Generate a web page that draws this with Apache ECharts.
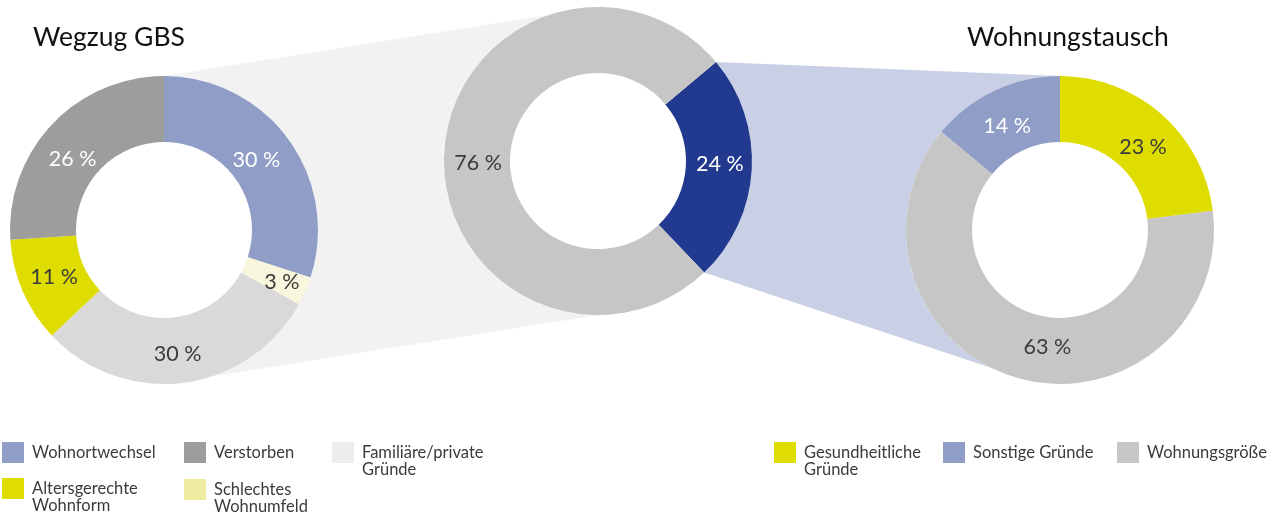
<!DOCTYPE html>
<html>
<head>
<meta charset="utf-8">
<script src="https://cdn.jsdelivr.net/npm/echarts@6/dist/echarts.min.js"></script>
<style>
html, body { margin: 0; padding: 0; background: #fff; }
#chart { width: 1285px; height: 515px; }
</style>
</head>
<body>
<div id="chart"></div>
<script>
// Wegzug GBS (left donut), clockwise from 12 o'clock
const wegzugNames = ['Wohnortwechsel', 'Schlechtes Wohnumfeld', 'Familiäre/private Gründe', 'Altersgerechte Wohnform', 'Verstorben']
const wegzugValues = [30, 3, 30, 11, 26]
// share of all cases (middle donut)
const totalNames = ['Wohnungstausch', 'Wegzug GBS']
const totalValues = [24, 76]
// Wohnungstausch (right donut), clockwise from 12 o'clock
const tauschNames = ['Gesundheitliche Gründe', 'Wohnungsgröße', 'Sonstige Gründe']
const tauschValues = [23, 63, 14]

// legend order as shown under the charts
const legendLeft = ['Wohnortwechsel', 'Verstorben', 'Familiäre/private Gründe', 'Altersgerechte Wohnform', 'Schlechtes Wohnumfeld']
const legendRight = ['Gesundheitliche Gründe', 'Sonstige Gründe', 'Wohnungsgröße']

// styles
const dark = '#3b3b3b'
const wegzugColors = ['#8f9dc7', '#f8f6dc', '#d9d9d9', '#dfdc00', '#9d9d9b']
const wegzugLabel = ['#fff', dark, dark, dark, '#fff']
const wegzugShift = [[-8, 3], [4, 3], [-2, 1], [4, -2], [-1, 14]]
const totalColors = ['#213a8f', '#c6c6c6']
const totalLabel = ['#fff', dark]
const totalShift = [[-2, -4], [4, 9]]
const tauschColors = ['#dfdc00', '#c6c6c6', '#8f9dc7']
const tauschLabel = [dark, dark, '#fff']
const tauschShift = [[1, 10], [22, -2], [0, 8]]
const legendColors = {
  'Wohnortwechsel': '#8f9dc7',
  'Verstorben': '#9d9d9b',
  'Familiäre/private Gründe': '#ededed',
  'Altersgerechte Wohnform': '#dfdc00',
  'Schlechtes Wohnumfeld': '#efeba0',
  'Gesundheitliche Gründe': '#dfdc00',
  'Sonstige Gründe': '#8f9dc7',
  'Wohnungsgröße': '#c6c6c6',
}
const wrapped = ['Familiäre/private Gründe', 'Altersgerechte Wohnform', 'Schlechtes Wohnumfeld', 'Gesundheitliche Gründe']

const R = 154
const r = 88
const cLeft = [164, 230]
const cMid = [598, 161]
const cRight = [1060, 230]
const midStart = 40 // echarts angle, 90 = 12 o'clock

function pt(c, rad, clockDeg) {
  let a = clockDeg * Math.PI / 180
  return [c[0] + rad * Math.sin(a), c[1] - rad * Math.cos(a)]
}

function items(names, values, colors, labelColors, shifts) {
  return names.map((n, i) => ({
    name: n,
    value: values[i],
    itemStyle: { color: colors[i] },
    label: { color: labelColors[i], offset: shifts[i] },
  }))
}

function pie(center, startAngle, data) {
  return {
    type: 'pie',
    center: center,
    radius: [r, R],
    startAngle: startAngle,
    clockwise: true,
    avoidLabelOverlap: false,
    silent: true,
    itemStyle: { borderWidth: 0 },
    label: {
      show: true,
      position: 'inside',
      formatter: '{c} %',
      fontFamily: 'Lato',
      fontSize: 21.5,
    },
    labelLine: { show: false },
    emphasis: { disabled: true },
    data: data,
  }
}

// legend cells: swatch left/top
const legendPos = {
  'Wohnortwechsel': [2, 442],
  'Verstorben': [184, 442],
  'Familiäre/private Gründe': [332, 442],
  'Altersgerechte Wohnform': [2, 478],
  'Schlechtes Wohnumfeld': [184, 479],
  'Gesundheitliche Gründe': [774, 442],
  'Sonstige Gründe': [943, 442],
  'Wohnungsgröße': [1117, 442],
}

let legends = legendLeft.concat(legendRight).map((name) => {
  let two = wrapped.includes(name)
  let pos = legendPos[name]
  return {
    data: [{ name: name, itemStyle: { color: legendColors[name] } }],
    left: pos[0],
    top: two ? pos[1] - 15 : pos[1],
    padding: 0,
    icon: 'rect',
    itemWidth: 22,
    itemHeight: 21,
    selectedMode: false,
    // empty first line keeps the first text line level with the swatch
    formatter: (n) => (two ? '\n' + n.replace(' ', '\n') : n),
    textStyle: {
      fontFamily: 'Lato',
      fontSize: 16.5,
      lineHeight: 17,
      color: dark,
      padding: [0, 0, 0, 3],
    },
  }
})

let blueFrom = 90 - midStart
let blueTo = blueFrom + totalValues[0] * 3.6

let chart = echarts.init(document.getElementById('chart'))
chart.setOption({
  animation: false,
  title: [
    { text: 'Wegzug GBS', left: 33, top: 24, padding: 0, textStyle: { fontFamily: 'Lato', fontSize: 26.5, fontWeight: 'normal', color: '#111' } },
    { text: 'Wohnungstausch', left: 967, top: 24, padding: 0, textStyle: { fontFamily: 'Lato', fontSize: 26.5, fontWeight: 'normal', color: '#111' } },
  ],
  legend: legends,
  graphic: [
    {
      type: 'polygon', z: 0, silent: true,
      shape: { points: [pt(cLeft, R, 0), pt(cMid, R, 0), pt(cMid, R, 180), pt(cLeft, R, 180)] },
      style: { fill: '#f2f2f2' },
    },
    {
      type: 'polygon', z: 0, silent: true,
      shape: { points: [pt(cMid, R, blueFrom), pt(cRight, R, 0), pt(cRight, R, 190), pt(cMid, R, blueTo)] },
      style: { fill: '#c9d0e5' },
    },
    { type: 'circle', z: 1, silent: true, shape: { cx: cLeft[0], cy: cLeft[1], r: R }, style: { fill: '#fff' } },
    { type: 'circle', z: 1, silent: true, shape: { cx: cMid[0], cy: cMid[1], r: R }, style: { fill: '#fff' } },
    { type: 'circle', z: 1, silent: true, shape: { cx: cRight[0], cy: cRight[1], r: R }, style: { fill: '#fff' } },
  ],
  series: [
    pie(cLeft, 90, items(wegzugNames, wegzugValues, wegzugColors, wegzugLabel, wegzugShift)),
    pie(cMid, midStart, items(totalNames, totalValues, totalColors, totalLabel, totalShift)),
    pie(cRight, 90, items(tauschNames, tauschValues, tauschColors, tauschLabel, tauschShift)),
  ],
})
</script>
</body>
</html>
